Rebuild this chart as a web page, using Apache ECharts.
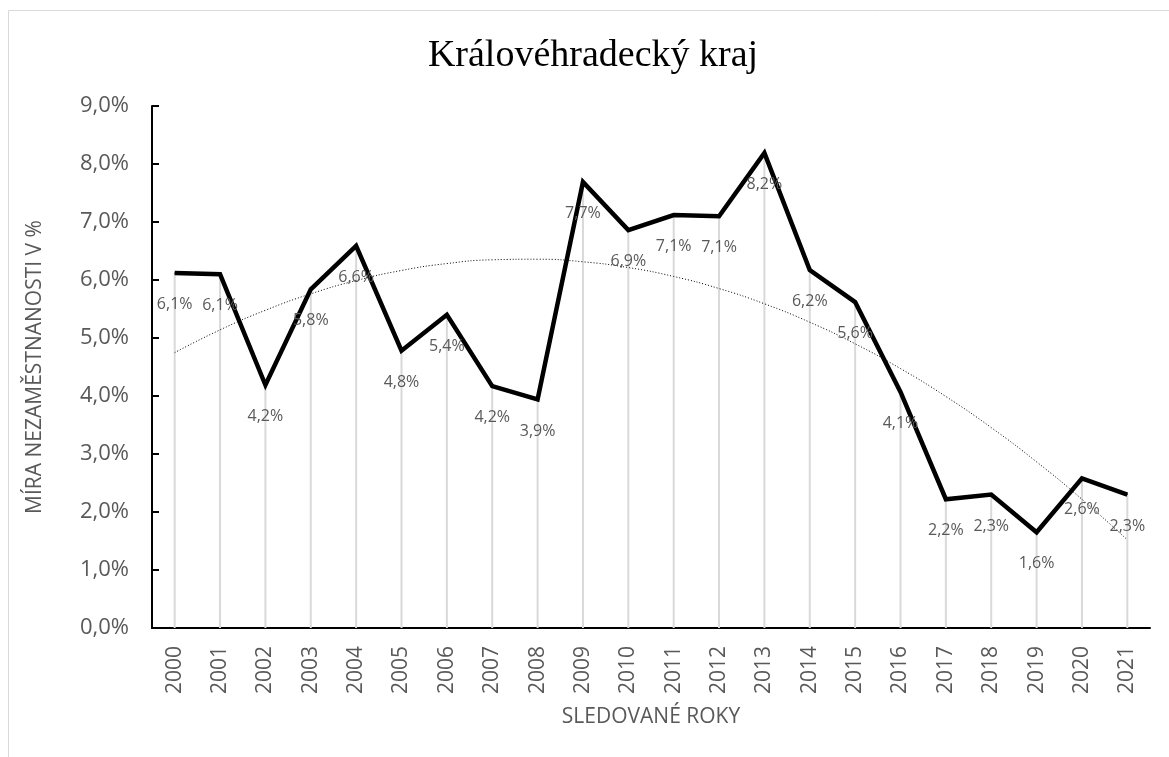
<!DOCTYPE html>
<html>
	<head>
		<meta charset="utf-8">
		<title>Královéhradecký kraj</title>
		<script src="https://cdn.jsdelivr.net/npm/echarts@6/dist/echarts.min.js"></script>
		<style>
			html, body { margin: 0; padding: 0; background: #fff; }
		</style>
	</head>
	<body>
		<div id="main" style="width: 1169px;height: 757px;"></div>
		<script type="text/javascript">
			// data
			var roky = ['2000', '2001', '2002', '2003', '2004', '2005', '2006', '2007', '2008', '2009', '2010',
				'2011', '2012', '2013', '2014', '2015', '2016', '2017', '2018', '2019', '2020', '2021'];
			var mira = [6.12, 6.10, 4.19, 5.84, 6.59, 4.78, 5.40, 4.17, 3.94, 7.69, 6.86,
				7.12, 7.10, 8.19, 6.17, 5.62, 4.07, 2.22, 2.30, 1.65, 2.58, 2.30];
			var yTicks = [0, 1, 2, 3, 4, 5, 6, 7, 8, 9];

			// polynomial trend (order 2), least squares like in Excel
			function polyTrend(vals) {
				var n = vals.length, s = [0, 0, 0, 0, 0], t = [0, 0, 0];
				for (var i = 0; i < n; i++) {
					var x = i + 1;
					for (var k = 0; k < 5; k++) s[k] += Math.pow(x, k);
					for (var k = 0; k < 3; k++) t[k] += vals[i] * Math.pow(x, k);
				}
				var m = [[s[0], s[1], s[2], t[0]], [s[1], s[2], s[3], t[1]], [s[2], s[3], s[4], t[2]]];
				for (var c = 0; c < 3; c++) {
					for (var r = c + 1; r < 3; r++) {
						var f = m[r][c] / m[c][c];
						for (var j = c; j < 4; j++) m[r][j] -= f * m[c][j];
					}
				}
				var b = [0, 0, 0];
				for (var r = 2; r >= 0; r--) {
					var v = m[r][3];
					for (var j = r + 1; j < 3; j++) v -= m[r][j] * b[j];
					b[r] = v / m[r][r];
				}
				return vals.map(function (v, i) { var x = i + 1; return b[0] + b[1] * x + b[2] * x * x; });
			}
			var trend = polyTrend(mira);

			var font = "'Open Sans', sans-serif";
			var grey = '#595959';

			var myChart = echarts.init(document.getElementById('main'));
			var option = {
				animation: false,
				backgroundColor: '#fff',
				title: {
					text: 'Královéhradecký kraj',
					left: 588,
					textAlign: 'center',
					top: 32,
					textStyle: { fontFamily: "'Liberation Serif', serif", fontWeight: 'normal', fontSize: 38, color: '#000' }
				},
				graphic: [{
					type: 'rect',
					shape: { x: 8.5, y: 10.5, width: 1170, height: 760 },
					style: { fill: 'none', stroke: '#d9d9d9', lineWidth: 1 },
					silent: true
				}],
				grid: { left: 152, right: 19, top: 106, bottom: 129 },
				xAxis: {
					type: 'category',
					data: roky,
					name: 'SLEDOVANÉ ROKY',
					nameLocation: 'middle',
					nameGap: 79,
					nameTextStyle: { fontFamily: font, fontSize: 21, color: grey },
					axisLine: { lineStyle: { color: '#000', width: 2 } },
					axisTick: { show: false },
					axisLabel: { rotate: 90, margin: 18, fontFamily: font, fontSize: 21, color: grey },
					splitLine: { show: false }
				},
				yAxis: {
					type: 'value',
					min: 0,
					max: 9,
					interval: 1,
					name: 'MÍRA NEZAMĚSTNANOSTI V %',
					nameLocation: 'middle',
					nameGap: 106,
					nameTextStyle: { fontFamily: font, fontSize: 21, color: grey },
					axisLine: { show: true, lineStyle: { color: '#000', width: 2 } },
					axisTick: { show: true, inside: true, length: 7, lineStyle: { color: '#000', width: 2 } },
					axisLabel: {
						margin: 23,
						fontFamily: font, fontSize: 22, color: grey,
						formatter: function (v) { return yTicks.indexOf(v) >= 0 ? v.toFixed(1).replace('.', ',') + '%' : ''; }
					},
					splitLine: { show: false }
				},
				series: [{
					// svislé spojnice k ose
					type: 'bar',
					data: mira,
					barWidth: 2,
					itemStyle: { color: '#d9d9d9' },
					silent: true,
					z: 1
				}, {
					type: 'line',
					data: trend,
					symbol: 'none',
					smooth: true,
					lineStyle: { color: '#000', width: 1, type: [1, 2] },
					silent: true,
					z: 2
				}, {
					type: 'line',
					data: mira,
					symbol: 'circle',
					symbolSize: 1,
					showSymbol: true,
					itemStyle: { color: '#000' },
					lineStyle: { color: '#000', width: 4.5, join: 'miter' },
					label: {
						show: true,
						position: 'bottom',
						distance: 23,
						fontFamily: font,
						fontSize: 16,
						color: grey,
						formatter: function (p) { return p.value.toFixed(1).replace('.', ',') + '%'; }
					},
					z: 3
				}]
			};
			myChart.setOption(option);
		</script>
	</body>
</html>
